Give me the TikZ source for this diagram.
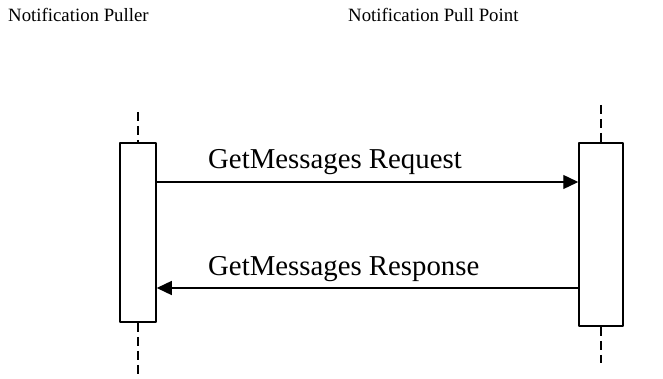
\documentclass[tikz,border=0pt]{standalone}
\usepackage{fontspec}
\setmainfont{Liberation Serif}
\usetikzlibrary{arrows.meta}
\begin{document}
\begin{tikzpicture}[x=1pt,y=-1pt,>={Triangle[length=15pt,width=14pt]},line join=round,
	bar/.style={draw,line width=1.5pt,fill=white,minimum width=#1,inner sep=0pt},
	life/.style={line width=1.5pt,dash pattern=on 9pt off 5pt},
	msg/.style={->,line width=1.3pt},
	big/.style={font=\fontsize{28.8}{30}\selectfont,inner sep=0pt},
	head/.style={font=\fontsize{18.8}{20}\selectfont,inner sep=0pt,anchor=west}]
		\useasboundingbox (0,0) rectangle (663,379);
		\node[head] (puller) at (8,15) {Notification Puller};
		\node[head] (point) at (348,15) {Notification Pull Point};
		\node[bar=36pt,minimum height=179pt] (lbar) at (138,232.5) {};
		\node[bar=44pt,minimum height=183pt] (rbar) at (601,234.5) {};
		\coordinate (ltop) at (138,112);
		\coordinate (lbot) at (138,379);
		\coordinate (rtop) at (601,105);
		\coordinate (rbot) at (601,363);
		\draw[life] (ltop)--(lbar.north);
		\draw[life] (lbar.south)--(lbot);
		\draw[life] (rtop)--(rbar.north);
		\draw[life] (rbar.south)--(rbot);
		\draw[msg] (lbar.east |- 0,182)--(rbar.west |- 0,182);
		\draw[msg] (rbar.west |- 0,288)--(lbar.east |- 0,288);
		\node[big,anchor=base west] (req) at (208,169) {GetMessages Request};
		\node[big,anchor=base west] (resp) at (208,275) {GetMessages Response};
\end{tikzpicture}
\end{document}
